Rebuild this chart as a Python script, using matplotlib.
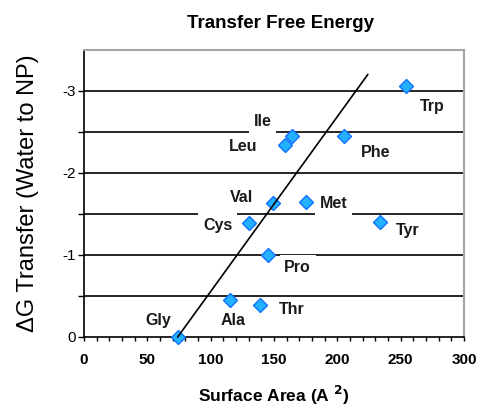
import matplotlib
matplotlib.use("Agg")
import matplotlib.pyplot as plt
from matplotlib.ticker import MultipleLocator

plt.rcParams['font.family'] = ['Liberation Sans', 'DejaVu Sans']
plt.rcParams['axes.unicode_minus'] = False

# 数据：氨基酸表面积与转移自由能
amino_acids = ['Gly', 'Ala', 'Thr', 'Pro', 'Cys', 'Val', 'Met', 'Tyr', 'Leu', 'Ile', 'Phe', 'Trp']
surface_area = [74, 115, 139, 145, 130, 149, 175, 234, 159, 164, 205, 254]
delta_g = [0.0, -0.45, -0.39, -1.0, -1.39, -1.64, -1.65, -1.40, -2.34, -2.45, -2.45, -3.06]

# 拟合直线 (斜率, 截距, x范围)
fit_slope = -0.02133
fit_intercept = 1.578
fit_x = [74, 224]

grid_levels = [-0.5, -1.0, -1.5, -2.0, -2.5, -3.0]
y_ticks = [0, -1, -2, -3]
y_ticklabels = ['0', '-1', '-2', '-3']
x_ticks = [0, 50, 100, 150, 200, 250, 300]

# 标签相对点的偏移 (像素, 向上为正)
label_offsets = [(-19, 17), (3, -20), (32, -4), (30, -12), (-31, -2), (-31, 5),
                 (28, -2), (27, -8), (-42, -1), (-29, 15), (32, -16), (27, -20)]

fig = plt.figure(figsize=(4.92, 4.09), dpi=100)
ax = fig.add_axes([84/492, 72/409, 380/492, 287/409])

ax.hlines(grid_levels, 0, 300, colors='black', linewidth=1.2, zorder=1)

for name, x, y, (dx, dy) in zip(amino_acids, surface_area, delta_g, label_offsets):
    ax.annotate(name, (x, y), xytext=(dx*0.72, dy*0.72), textcoords='offset points',
                ha='center', va='center', fontsize=11.5, fontweight='bold', color='#1a1a1a',
                bbox=dict(boxstyle='square,pad=0.3', facecolor='white', edgecolor='none'),
                zorder=2)

ax.plot(surface_area, delta_g, linestyle='none', marker='D', markersize=7.5,
        markerfacecolor='#22b0ff', markeredgecolor='#1070ff', markeredgewidth=1,
        zorder=3, clip_on=False)

fit_y = [fit_slope*x + fit_intercept for x in fit_x]
ax.plot(fit_x, fit_y, color='black', linewidth=1.2, zorder=4, clip_on=False)

ax.set_xlim(0, 300)
ax.set_ylim(0, -3.5)
ax.set_xticks(x_ticks)
ax.xaxis.set_minor_locator(MultipleLocator(10))
ax.set_yticks(y_ticks)
ax.set_yticklabels(y_ticklabels)
ax.set_yticks([-0.5, -1.5, -2.5], minor=True)

ax.tick_params(axis='x', which='both', direction='out', length=3, width=1, pad=8.5, labelsize=11)
ax.tick_params(axis='y', which='both', direction='out', length=4, width=1, pad=2, labelsize=11)
plt.setp(ax.get_xticklabels(), fontweight='bold')

for s in ['left', 'bottom']:
    ax.spines[s].set_color('black')
    ax.spines[s].set_linewidth(1.2)
for s in ['top', 'right']:
    ax.spines[s].set_color('#a6a6a6')
    ax.spines[s].set_linewidth(1.5)

ax.set_title('Transfer Free Energy', fontsize=13.5, fontweight='bold', pad=15.8, x=0.518)
ax.set_xlabel('Surface Area (A $^{\\mathbf{2}}$)', fontsize=12.5, fontweight='bold')
ax.xaxis.set_label_coords(0.5, -0.165)
ax.set_ylabel('ΔG Transfer (Water to NP)', fontsize=17)
ax.yaxis.set_label_coords(-0.118, 0.5)

plt.savefig('out.png', dpi=100)
